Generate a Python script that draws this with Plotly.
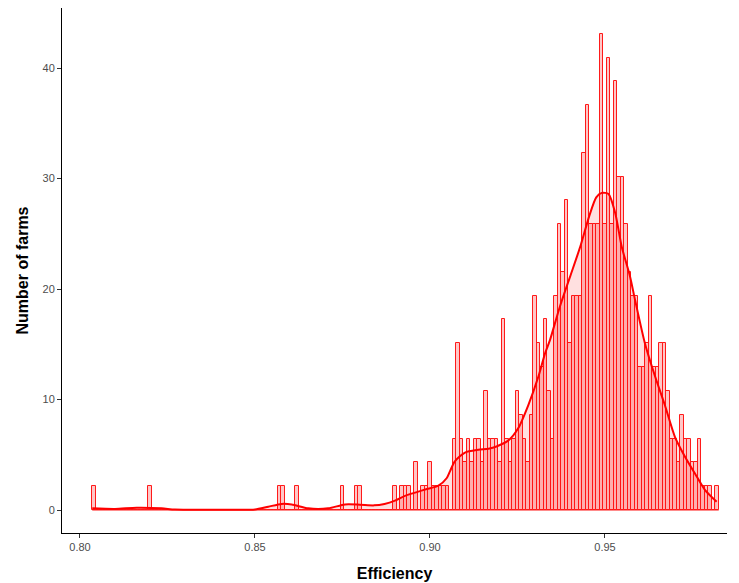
import numpy as np
import plotly.graph_objects as go

# Histogram of farm efficiency scores (bin width 0.001, first bin centred at 0.804)
bin_width = 0.001
first_center = 0.804
n_farms = 464

# farms per bin, bins 0.804 ... 0.982
counts = [
    1, 0, 0, 0, 0, 0, 0, 0, 0, 0,   # 0.804-0.813
    0, 0, 0, 0, 0, 0, 1, 0, 0, 0,   # 0.814-0.823
    0, 0, 0, 0, 0, 0, 0, 0, 0, 0,   # 0.824-0.833
    0, 0, 0, 0, 0, 0, 0, 0, 0, 0,   # 0.834-0.843
    0, 0, 0, 0, 0, 0, 0, 0, 0, 0,   # 0.844-0.853
    0, 0, 0, 1, 1, 0, 0, 0, 1, 0,   # 0.854-0.863
    0, 0, 0, 0, 0, 0, 0, 0, 0, 0,   # 0.864-0.873
    0, 1, 0, 0, 0, 1, 1, 0, 0, 0,   # 0.874-0.883
    0, 0, 0, 0, 0, 0, 1, 0, 1, 1,   # 0.884-0.893
    1, 0, 2, 0, 1, 1, 2, 1, 1, 1,   # 0.894-0.903
    1, 1, 0, 3, 7, 3, 2, 3, 2, 3,   # 0.904-0.913
    3, 2, 5, 3, 3, 3, 2, 8, 3, 2,   # 0.914-0.923
    3, 5, 4, 3, 2, 4, 9, 7, 6, 8,   # 0.924-0.933
    5, 3, 9, 12, 10, 13, 7, 9, 9, 9,  # 0.934-0.943
    15, 17, 12, 12, 12, 20, 12, 19, 12, 18,  # 0.944-0.953
    14, 14, 12, 10, 9, 9, 6, 6, 7, 9,  # 0.954-0.963
    6, 6, 7, 7, 5, 3, 3, 2, 4, 3,   # 0.964-0.973
    3, 2, 2, 3, 1, 1, 1, 0, 1,      # 0.974-0.982
]

# smoothed density of the same scores
dens_x = [0.8035, 0.8100, 0.8162, 0.8233, 0.8271, 0.8350, 0.8450, 0.8500,
          0.8538, 0.8576, 0.8605, 0.8652, 0.8709, 0.8757, 0.8800, 0.8840,
          0.8870, 0.8900, 0.8930, 0.8960, 0.8991, 0.9024, 0.9048, 0.9057,
          0.9071, 0.9100, 0.9138, 0.9167, 0.9190, 0.9224, 0.9252, 0.9281,
          0.9310, 0.9329, 0.9343, 0.9371, 0.9400, 0.9429, 0.9455, 0.9475,
          0.9491, 0.9510, 0.9529, 0.9548, 0.9571, 0.9586, 0.9614, 0.9643,
          0.9671, 0.9700, 0.9729, 0.9757, 0.9786, 0.9819]
dens_y = [0.15, 0.10, 0.20, 0.15, 0.05, 0.02, 0.02, 0.05,
          0.30, 0.55, 0.50, 0.15, 0.15, 0.50, 0.48, 0.42,
          0.55, 0.85, 1.30, 1.60, 1.90, 2.20, 2.90, 3.50,
          4.40, 5.20, 5.45, 5.55, 5.75, 6.30, 7.40, 9.50,
          12.1, 14.2, 15.4, 18.4, 21.1, 23.8, 26.6, 28.3,
          28.7, 28.6, 26.9, 23.8, 21.2, 19.0, 15.1, 12.1,
          9.5, 6.6, 4.8, 3.3, 1.8, 0.75]

centers = first_center + bin_width * np.arange(len(counts))
heights = np.array(counts) / (n_farms * bin_width)

fig = go.Figure()

# baseline drawn by empty bins
fig.add_trace(go.Scatter(
    x=[centers[0] - bin_width / 2, centers[-1] + bin_width / 2], y=[0, 0],
    mode="lines", line=dict(color="#ff2020", width=1), hoverinfo="skip",
))

fig.add_trace(go.Bar(
    x=centers, y=heights, width=bin_width,
    marker=dict(color="rgba(255,0,0,0.22)",
                line=dict(color="#ff1a1a", width=1)),
))

fig.add_trace(go.Scatter(
    x=dens_x, y=dens_y, mode="lines",
    line=dict(color="#ff0000", width=2, shape="spline", smoothing=0.7),
    fill="tozeroy", fillcolor="rgba(255,0,0,0.12)",
))

axis_font = dict(family="Liberation Sans, Arial, sans-serif", size=11, color="#4d4d4d")
title_font = dict(family="Liberation Sans, Arial, sans-serif", size=16, color="black")

fig.update_layout(
    width=739, height=583,
    margin=dict(l=62, r=12, t=8, b=50),
    plot_bgcolor="white", paper_bgcolor="white",
    showlegend=False, bargap=0,
    xaxis=dict(
        range=[0.79486, 0.98486],
        tickvals=[0.80, 0.85, 0.90, 0.95],
        ticktext=["0.80", "0.85", "0.90", "0.95"],
        showgrid=False, zeroline=False, automargin=False,
        showline=True, linecolor="black", linewidth=1,
        ticks="outside", ticklen=4, tickcolor="#333333",
        tickfont=axis_font,
        title=dict(text="<b>Efficiency</b>", font=title_font, standoff=15),
    ),
    yaxis=dict(
        range=[-2.08, 45.43],
        tickvals=[0, 10, 20, 30, 40],
        showgrid=False, zeroline=False, automargin=False,
        showline=True, linecolor="black", linewidth=1,
        ticks="outside", ticklen=4, tickcolor="#333333",
        tickfont=axis_font,
        title=dict(text="<b>Number of farms</b>", font=title_font, standoff=9),
    ),
)

fig.write_html("out.html")
